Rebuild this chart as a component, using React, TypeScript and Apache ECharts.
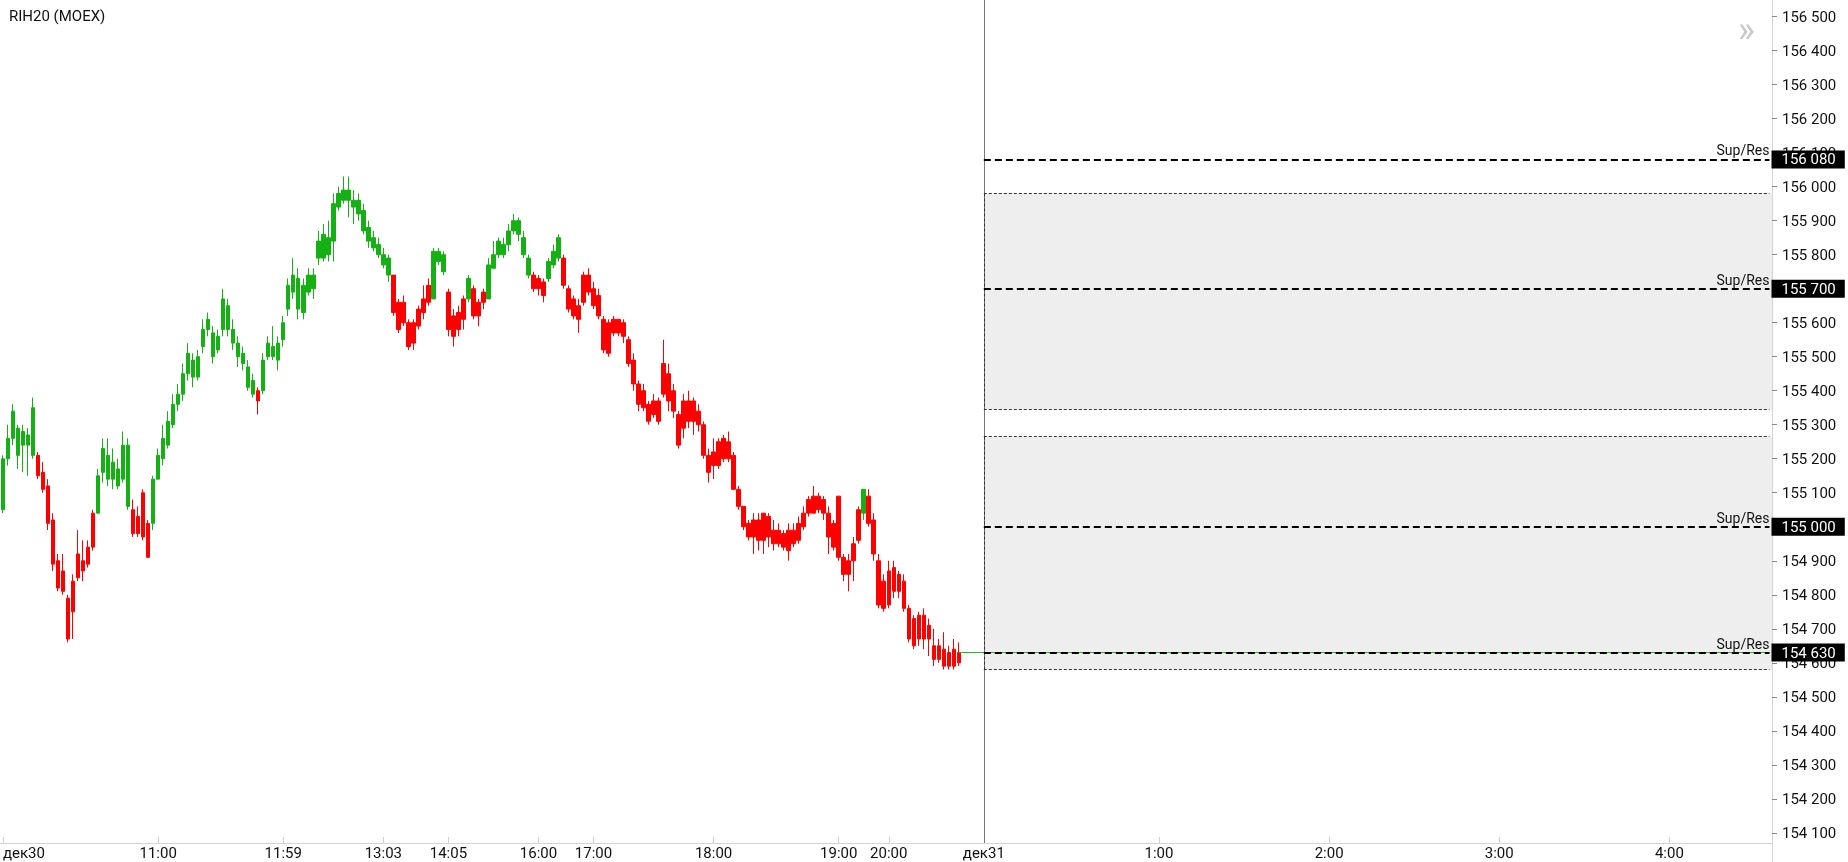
import React, { useEffect, useRef } from 'react';
import * as echarts from 'echarts';

const TITLE = 'RIH20 (MOEX)';
const FONT = 'Roboto, "Noto Sans", sans-serif';
const GREEN = '#14b014';
const RED = '#ff0000';

// x-axis: time slots (one per bar, plus empty future slots)
const TOTAL_SLOTS = 354;
const tickSlots = [0, 31, 56, 76, 89, 107, 118, 142, 167, 177, 196, 231, 265, 299, 333];
const tickLabels = ['дек30', '11:00', '11:59', '13:03', '14:05', '16:00', '17:00', '18:00', '19:00', '20:00', 'дек31', '1:00', '2:00', '3:00', '4:00'];
const FUTURE_START = 196; // slot of дек31

// OHLC bars
const opens = [
  155050, 155200, 155260, 155210, 155240, 155240, 155210, 155210, 155160, 155120,
  155020, 154900, 154870, 154790, 154840, 154920, 154900, 154940, 155040, 155040,
  155160, 155140, 155140, 155120, 155140, 155240, 155050, 154980, 155100, 155010,
  155010, 155140, 155200, 155240, 155300, 155360, 155390, 155450, 155490, 155440,
  155530, 155580, 155570, 155520, 155580, 155650, 155580, 155540, 155510, 155470,
  155430, 155400, 155400, 155500, 155530, 155490, 155550, 155640, 155690, 155730,
  155630, 155690, 155740, 155790, 155790, 155850, 155840, 155940, 155960, 155990,
  155960, 155960, 155930, 155880, 155850, 155830, 155800, 155790, 155740, 155660,
  155600, 155600, 155540, 155590, 155630, 155660, 155670, 155780, 155800, 155690,
  155620, 155580, 155670, 155670, 155700, 155660, 155660, 155670, 155760, 155800,
  155830, 155830, 155870, 155900, 155850, 155790, 155740, 155700, 155720, 155730,
  155770, 155790, 155790, 155700, 155670, 155650, 155660, 155740, 155700, 155680,
  155610, 155510, 155610, 155570, 155600, 155550, 155490, 155420, 155400, 155360,
  155330, 155370, 155390, 155450, 155400, 155330, 155290, 155370, 155310, 155340,
  155300, 155210, 155180, 155250, 155200, 155250, 155210, 155110, 155060, 155010,
  154970, 155020, 154960, 155030, 154990, 154950, 154980, 154990, 154950, 155010,
  155000, 155040, 155090, 155050, 155080, 155040, 155010, 154910, 154910, 154900,
  154900, 154960, 155040, 155090, 155020, 154900, 154840, 154770, 154880, 154810,
  154840, 154760, 154730, 154670, 154740, 154670, 154650, 154610, 154640, 154590,
  154640, 154600,
];
const closes = [
  155200, 155260, 155340, 155290, 155280, 155270, 155350, 155150, 155110, 155010,
  154890, 154820, 154810, 154670, 154750, 154850, 154870, 154890, 154940, 155150,
  155230, 155210, 155190, 155170, 155240, 155060, 154980, 155030, 154970, 154910,
  155140, 155210, 155260, 155310, 155360, 155390, 155450, 155510, 155440, 155500,
  155580, 155610, 155500, 155560, 155670, 155580, 155540, 155500, 155480, 155410,
  155390, 155370, 155490, 155540, 155500, 155540, 155600, 155710, 155740, 155640,
  155710, 155740, 155700, 155840, 155860, 155800, 155950, 155980, 155990, 155960,
  155940, 155920, 155870, 155840, 155820, 155800, 155770, 155740, 155630, 155580,
  155660, 155530, 155600, 155640, 155670, 155710, 155810, 155810, 155750, 155580,
  155560, 155630, 155610, 155730, 155620, 155620, 155690, 155770, 155800, 155840,
  155800, 155870, 155900, 155860, 155800, 155740, 155700, 155730, 155680, 155780,
  155810, 155850, 155710, 155640, 155620, 155610, 155740, 155690, 155650, 155620,
  155520, 155600, 155570, 155610, 155560, 155480, 155420, 155360, 155350, 155310,
  155370, 155310, 155480, 155370, 155340, 155240, 155370, 155310, 155370, 155300,
  155210, 155160, 155220, 155180, 155260, 155200, 155110, 155060, 155000, 154970,
  155020, 154960, 155040, 154970, 154950, 154990, 154940, 154930, 154990, 154960,
  155040, 155080, 155040, 155090, 155040, 154970, 154940, 155090, 154860, 154860,
  154950, 155050, 155110, 155010, 154920, 154770, 154760, 154870, 154810, 154860,
  154760, 154670, 154650, 154740, 154670, 154710, 154610, 154650, 154590, 154630,
  154590, 154630,
];
const lows = [
  155040, 155180, 155240, 155170, 155160, 155150, 155200, 155140, 155100, 154990,
  154870, 154810, 154800, 154660, 154670, 154840, 154840, 154880, 154930, 155040,
  155130, 155120, 155110, 155110, 155130, 155050, 154970, 154970, 154960, 154910,
  154990, 155140, 155180, 155230, 155290, 155340, 155370, 155430, 155410, 155430,
  155510, 155560, 155480, 155510, 155560, 155560, 155520, 155470, 155460, 155400,
  155380, 155330, 155390, 155490, 155490, 155460, 155530, 155620, 155670, 155610,
  155610, 155680, 155670, 155770, 155780, 155780, 155780, 155930, 155950, 155910,
  155890, 155900, 155860, 155820, 155810, 155790, 155760, 155720, 155620, 155570,
  155590, 155520, 155520, 155580, 155610, 155650, 155670, 155770, 155740, 155560,
  155530, 155560, 155580, 155660, 155610, 155590, 155640, 155670, 155760, 155790,
  155790, 155810, 155860, 155840, 155790, 155730, 155690, 155680, 155660, 155720,
  155760, 155780, 155700, 155630, 155610, 155570, 155650, 155680, 155640, 155610,
  155510, 155500, 155560, 155560, 155540, 155470, 155400, 155340, 155340, 155300,
  155320, 155300, 155380, 155340, 155320, 155230, 155260, 155290, 155270, 155280,
  155200, 155130, 155140, 155170, 155190, 155190, 155110, 155050, 154990, 154960,
  154920, 154930, 154920, 154940, 154930, 154940, 154930, 154900, 154940, 154950,
  154990, 155030, 155040, 155040, 155020, 154920, 154930, 154900, 154840, 154810,
  154840, 154950, 155020, 155000, 154900, 154760, 154750, 154760, 154790, 154790,
  154750, 154660, 154640, 154650, 154640, 154620, 154590, 154600, 154580, 154580,
  154580, 154590,
];
const highs = [
  155210, 155300, 155360, 155300, 155300, 155290, 155380, 155220, 155190, 155140,
  155040, 154920, 154920, 154800, 154860, 154990, 154960, 154960, 155050, 155170,
  155260, 155260, 155230, 155200, 155280, 155260, 155080, 155060, 155110, 155020,
  155150, 155230, 155300, 155340, 155390, 155420, 155480, 155540, 155510, 155520,
  155610, 155630, 155590, 155580, 155700, 155670, 155610, 155560, 155530, 155490,
  155450, 155410, 155510, 155560, 155590, 155560, 155620, 155730, 155790, 155760,
  155730, 155760, 155760, 155870, 155890, 155900, 155980, 156000, 156030, 156030,
  155990, 155980, 155950, 155900, 155870, 155850, 155820, 155800, 155740, 155670,
  155680, 155610, 155610, 155650, 155710, 155730, 155820, 155820, 155810, 155700,
  155640, 155650, 155680, 155740, 155710, 155670, 155700, 155790, 155840, 155850,
  155850, 155890, 155920, 155910, 155870, 155800, 155750, 155740, 155730, 155790,
  155830, 155860, 155800, 155710, 155680, 155670, 155750, 155760, 155720, 155700,
  155620, 155610, 155620, 155610, 155610, 155560, 155510, 155430, 155420, 155370,
  155390, 155380, 155550, 155480, 155420, 155340, 155390, 155400, 155380, 155360,
  155310, 155230, 155260, 155260, 155270, 155280, 155220, 155120, 155060, 155020,
  155040, 155040, 155040, 155040, 155020, 155010, 154990, 155010, 155010, 155030,
  155060, 155090, 155120, 155100, 155090, 155060, 155020, 155090, 154920, 154920,
  154970, 155060, 155110, 155110, 155040, 154920, 154860, 154900, 154900, 154870,
  154860, 154770, 154740, 154750, 154760, 154730, 154700, 154670, 154690, 154650,
  154670, 154660,
];

// trend colouring: index where each run starts and whether the run is up (green)
const trendStarts = [0, 7, 19, 26, 30, 51, 52, 78, 86, 89, 93, 94, 97, 106, 109, 112, 172, 173];
const trendUp = [1, 0, 1, 0, 1, 0, 1, 0, 1, 0, 1, 0, 1, 0, 1, 0, 1, 0];

// levels
const supResLevels = [156080, 155700, 155000, 154630];
const zoneTops = [155980, 155265];
const zoneBottoms = [155345, 154580];
const lastPrice = 154630;

// y axis range
const Y_MIN = 154070;
const Y_MAX = 156549;

const fmtPrice = (v: number) => {
  const k = Math.floor(v / 1000);
  const r = Math.round(v - k * 1000);
  return `${k} ${String(r).padStart(3, '0')}`;
};

export default function App() {
  const ref = useRef<HTMLDivElement>(null);

  useEffect(() => {
    document.body.style.margin = '0';
    if (!ref.current) return;
    const chart = echarts.init(ref.current, undefined, { renderer: 'svg' });

    const labelAt = new Map<number, string>();
    tickSlots.forEach((s, k) => labelAt.set(s, tickLabels[k]));
    const categories = Array.from({ length: TOTAL_SLOTS }, (_, i) => String(i));

    const isUp = (i: number) => {
      let up = 1;
      for (let k = 0; k < trendStarts.length; k++) if (i >= trendStarts[k]) up = trendUp[k];
      return up === 1;
    };

    const candles = opens.map((o, i) => {
      const c = isUp(i) ? GREEN : RED;
      return {
        value: [o, closes[i], lows[i], highs[i]],
        itemStyle: { color: c, color0: c, borderColor: c, borderColor0: c },
      };
    });

    const LAST_SLOT = TOTAL_SLOTS - 1;
    const LAST_BAR = opens.length - 1;
    const thinDash = { color: '#333', width: 1, type: [3, 2] as any, opacity: 1 };

    const markLineData: any[] = [];
    // vertical separator at дек31
    markLineData.push({ xAxis: FUTURE_START, lineStyle: { color: '#777', width: 1, type: 'solid' }, label: { show: false } });
    // zone borders
    zoneTops.forEach((t, k) => {
      const b = zoneBottoms[k];
      markLineData.push([{ coord: [FUTURE_START, t], lineStyle: thinDash, label: { show: false } }, { coord: [LAST_SLOT, t] }]);
      markLineData.push([{ coord: [FUTURE_START, b], lineStyle: thinDash, label: { show: false } }, { coord: [LAST_SLOT, b] }]);
      markLineData.push([{ coord: [FUTURE_START, t], lineStyle: thinDash, label: { show: false } }, { coord: [FUTURE_START, b] }]);
    });
    // current price line
    markLineData.push([
      { coord: [LAST_BAR, lastPrice], lineStyle: { color: '#2db52d', width: 1, type: 'solid' }, label: { show: false } },
      { coord: [LAST_SLOT, lastPrice] },
    ]);
    // Sup/Res lines
    supResLevels.forEach((v) => {
      markLineData.push([
        {
          coord: [FUTURE_START, v],
          lineStyle: { color: '#000', width: 2, type: [7, 4] as any },
          label: {
            show: true, position: 'insideEndTop', formatter: 'Sup/Res', color: '#111',
            fontSize: 14, fontFamily: FONT, distance: [0, 2],
          },
        },
        { coord: [LAST_SLOT, v] },
      ]);
    });
    // price boxes on the axis
    supResLevels.forEach((v) => {
      markLineData.push([
        {
          coord: [FUTURE_START, v],
          lineStyle: { color: 'rgba(0,0,0,0)', width: 0, opacity: 1 },
          label: {
            show: true, position: 'end', formatter: fmtPrice(v), color: '#fff', backgroundColor: '#000',
            fontSize: 15, fontFamily: FONT, padding: [2, 9, 1, 10], lineHeight: 15, distance: 2, opacity: 1,
          },
        },
        { coord: [LAST_SLOT, v] },
      ]);
    });

    const option: any = {
      animation: false,
      textStyle: { fontFamily: FONT },
      title: {
        text: TITLE, left: 4, top: 3,
        textStyle: { fontSize: 15, fontWeight: 'normal', color: '#111', fontFamily: FONT },
      },
      grid: { left: 0, right: 76, top: 0, bottom: 19, containLabel: false },
      xAxis: {
        type: 'category',
        data: categories,
        boundaryGap: true,
        axisLine: { show: true, lineStyle: { color: '#d4d4d4', width: 1 } },
        axisTick: {
          show: true, inside: true, length: 6, alignWithLabel: true,
          interval: (i: number) => labelAt.has(i),
          lineStyle: { color: '#cfcfcf' },
        },
        axisLabel: {
          interval: (i: number) => labelAt.has(i),
          formatter: (_v: string, i: number) => labelAt.get(i) ?? '',
          margin: 2, color: '#111', fontSize: 15, fontFamily: FONT,
          alignMinLabel: 'left',
        },
        splitLine: { show: false },
      },
      yAxis: {
        type: 'value',
        position: 'right',
        min: Y_MIN,
        max: Y_MAX,
        splitNumber: 25,
        minInterval: 100,
        maxInterval: 100,
        axisLine: { show: true, lineStyle: { color: '#d4d4d4', width: 1 } },
        axisTick: { show: true, length: 5, lineStyle: { color: '#888' } },
        axisLabel: {
          margin: 10, color: '#111', fontSize: 15, fontFamily: FONT,
          showMinLabel: false, showMaxLabel: false,
          formatter: (v: number) => fmtPrice(v),
        },
        splitLine: { show: false },
      },
      graphic: [
        { type: 'line', shape: { x1: 1772.5, y1: 843, x2: 1772.5, y2: 862 }, style: { stroke: '#d4d4d4', lineWidth: 1 } },
        { type: 'text', left: 1738, top: 12, style: { text: '»', fontSize: 36, fill: '#c8c8c8', fontFamily: FONT } },
      ],
      series: [
        {
          type: 'candlestick',
          data: candles,
          barWidth: 4,
          clip: false,
          markArea: {
            silent: true,
            itemStyle: { color: '#eeeeee', borderWidth: 0 },
            data: zoneTops.map((t, k) => [{ xAxis: FUTURE_START, yAxis: t }, { yAxis: zoneBottoms[k] }]),
          },
          markLine: {
            silent: true,
            symbol: ['none', 'none'],
            data: markLineData,
          },
        },
      ],
    };

    chart.setOption(option);
    return () => chart.dispose();
  }, []);

  return <div ref={ref} style={{ position: 'fixed', left: 0, top: 0, width: 1848, height: 862 }} />;
}
